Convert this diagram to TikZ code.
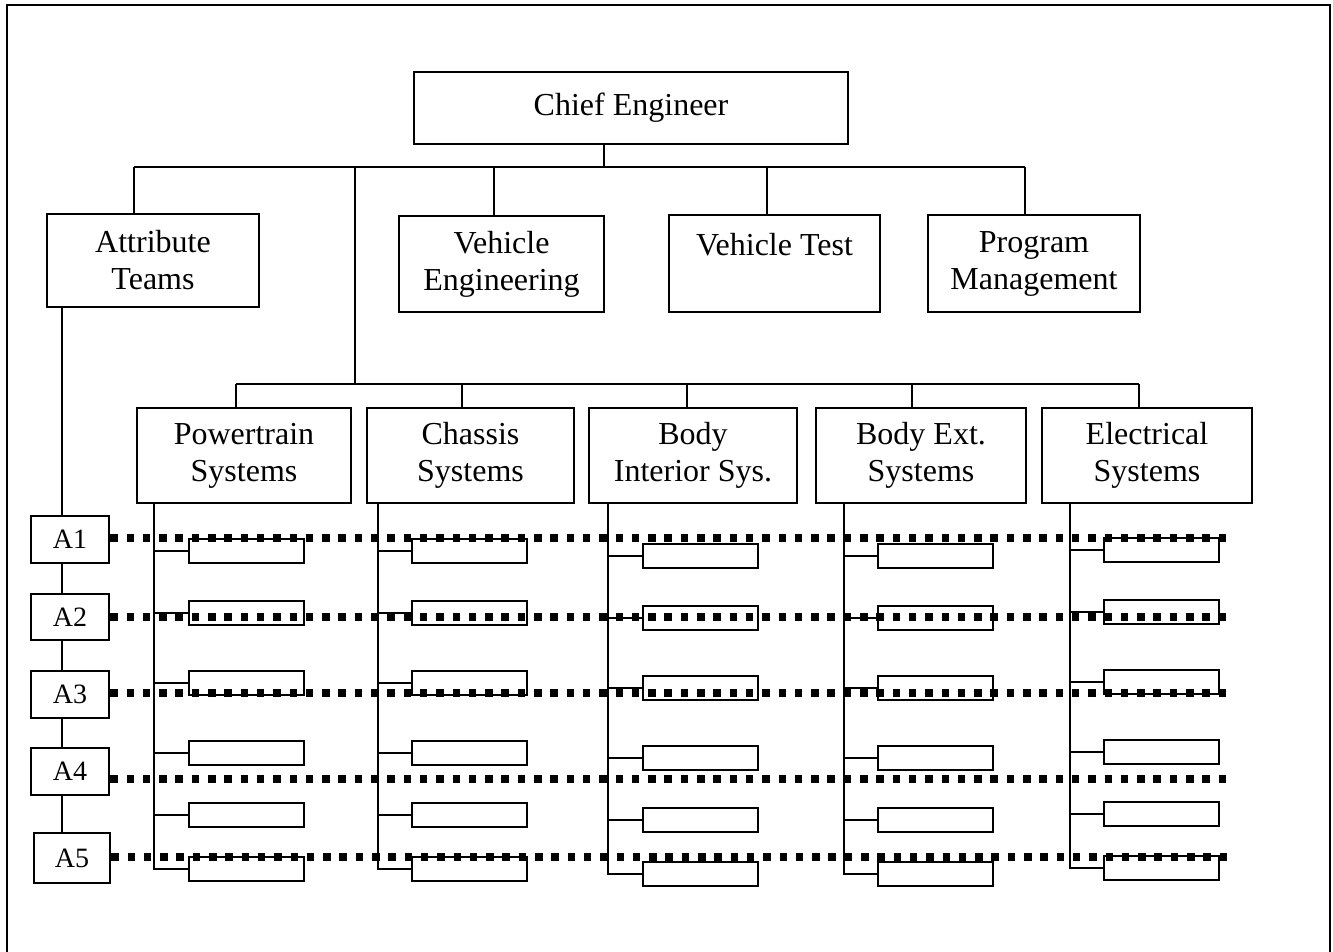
\documentclass[tikz,border=0pt]{standalone}
\usepackage{fontspec}
\setmainfont{Liberation Serif}
\begin{document}
\begin{tikzpicture}[x=0.5pt,y=-0.5pt,
  box/.style={draw, line width=1.2pt, inner sep=0pt, align=center,
    font=\fontsize{16}{18.5}\selectfont},
  abox/.style={draw, line width=1.2pt, inner sep=0pt,
    font=\fontsize{14}{16}\selectfont},
  slot/.style={draw, line width=1.1pt, inner sep=0pt,
    minimum width=57.5pt, minimum height=12pt},
  link/.style={line width=0.9pt},
  dotrow/.style={line width=3.75pt, dash pattern=on 3.75pt off 4.4pt},
  frame/.style={line width=1pt}]
\useasboundingbox (0,0) rectangle (1333,952);

% outer frame (open at the bottom)
\draw[frame] (7,952) -- (7,5) -- (1330,5) -- (1330,952);

% top level
\node[box, minimum width=217pt, minimum height=36pt] (chief) at (631,108) {Chief Engineer};
\node[box, minimum width=106pt, minimum height=46.5pt] (attr) at (153,260.5) {Attribute\\Teams};
\node[box, minimum width=102.5pt, minimum height=48pt] (veng) at (501.5,264) {Vehicle\\Engineering};
\node[box, minimum width=105.5pt, minimum height=48.5pt] (vtest) at (774.5,263.5) {Vehicle Test\\\phantom{Test}};
\node[box, minimum width=106pt, minimum height=48.5pt] (pm) at (1034,263.5) {Program\\Management};

% system headers
\node[box, minimum width=107pt, minimum height=47.5pt] (pt) at (244,455.5) {Powertrain\\Systems};
\node[box, minimum width=103.5pt, minimum height=47.5pt] (ch) at (470.5,455.5) {Chassis\\Systems};
\node[box, minimum width=104pt, minimum height=47.5pt] (bi) at (693,455.5) {Body\\Interior Sys.};
\node[box, minimum width=105pt, minimum height=47.5pt] (be) at (921,455.5) {Body Ext.\\Systems};
\node[box, minimum width=105pt, minimum height=47.5pt] (el) at (1147,455.5) {Electrical\\Systems};

% attribute team boxes
\node[abox, minimum width=39pt, minimum height=23.5pt] (a1) at (70,539.5) {A1};
\node[abox, minimum width=39pt, minimum height=23pt] (a2) at (70,617) {A2};
\node[abox, minimum width=39pt, minimum height=23.5pt] (a3) at (70,694.5) {A3};
\node[abox, minimum width=39pt, minimum height=23.5pt] (a4) at (70,771.5) {A4};
\node[abox, minimum width=38pt, minimum height=25pt] (a5) at (72,858) {A5};

% drop positions
\coordinate (bus1) at (0,167);
\coordinate (bus2) at (0,384);
\coordinate (dchief) at (604,0);
\coordinate (dattr) at (134,0);
\coordinate (trunk) at (355,0);
\coordinate (dveng) at (494,0);
\coordinate (dvtest) at (767,0);
\coordinate (dpm) at (1025,0);
\coordinate (dpt) at (236,0);
\coordinate (dch) at (462,0);
\coordinate (dbi) at (687,0);
\coordinate (dbe) at (912,0);
\coordinate (del) at (1139,0);
\coordinate (aline) at (62,0);

% first level connectors
\draw[link] (chief.south -| dchief) -- (bus1 -| dchief);
\draw[link] (bus1 -| dattr) -- (bus1 -| dpm);
\draw[link] (bus1 -| dattr) -- (attr.north -| dattr);
\draw[link] (bus1 -| dveng) -- (veng.north -| dveng);
\draw[link] (bus1 -| dvtest) -- (vtest.north -| dvtest);
\draw[link] (bus1 -| dpm) -- (pm.north -| dpm);
\draw[link] (bus1 -| trunk) -- (bus2 -| trunk);

% second level connectors
\draw[link] (bus2 -| dpt) -- (bus2 -| del);
\foreach \n in {pt,ch,bi,be,el}
  \draw[link] (bus2 -| d\n) -- (\n.north -| d\n);

% attribute chain
\draw[link] (attr.south -| aline) -- (a1.north -| aline);
\draw[link] (a1.south -| aline) -- (a2.north -| aline);
\draw[link] (a2.south -| aline) -- (a3.north -| aline);
\draw[link] (a3.south -| aline) -- (a4.north -| aline);
\draw[link] (a4.south -| aline) -- (a5.north -| aline);

% sub-system slots under each header
\foreach \c/\sx/\bx/\dy in {pt/154/188/0, ch/378/411/0, bi/608/642/5, be/844/877/5, el/1070/1103/-1} {
  \foreach \r/\ty in {1/538,2/600,3/670,4/740,5/802,6/856}
    \node[slot, anchor=north west] (\c-\r) at (\bx,\ty+\dy) {};
  \coordinate (\c-spine) at (\sx,0);
  \draw[link] (\c.south -| \c-spine) -- (\c-6.west -| \c-spine) -- (\c-6.west);
  \foreach \r in {1,...,5}
    \draw[link] (\c-\r.west -| \c-spine) -- (\c-\r.west);
}

% attribute rows across the systems
\foreach \a/\y in {1/538,2/617,3/693,4/779,5/857} {
  \coordinate (row\a) at (1233,\y);
  \draw[dotrow] (a\a.east |- row\a) -- (row\a);
}
\end{tikzpicture}
\end{document}
